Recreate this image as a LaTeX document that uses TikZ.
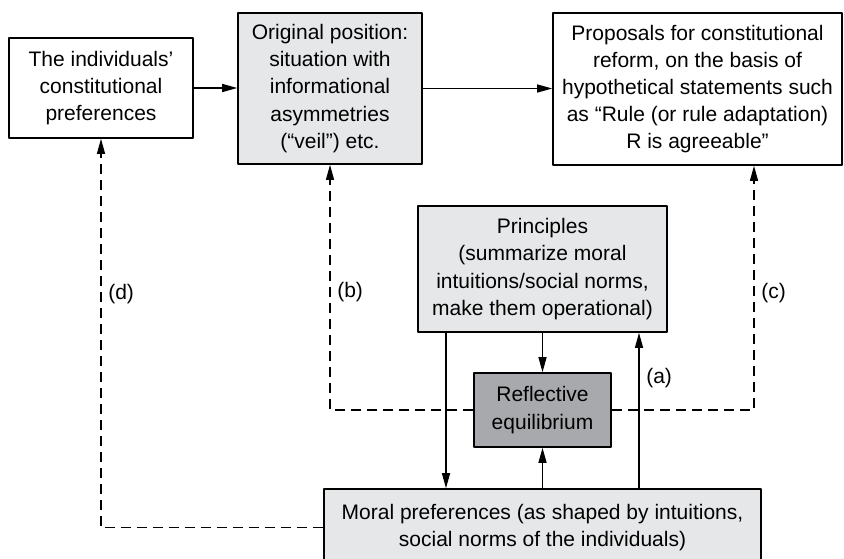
\documentclass[tikz,border=0pt]{standalone}
\usepackage{fontspec}
\setmainfont{Liberation Sans}
\usetikzlibrary{arrows.meta}
\definecolor{panelgray}{HTML}{E6E7E8}
\definecolor{equigray}{HTML}{A7A9AC}

\begin{document}
\begin{tikzpicture}[x=0.5pt, y=-0.5pt, font=\fontsize{10.5}{13.6}\selectfont, line join=round, >={Triangle[length=7.5pt,width=4pt]},
	box/.style={draw, line width=0.8pt, align=center, inner sep=0pt},
	greybox/.style={box, fill=panelgray},
	darkbox/.style={box, fill=equigray},
	conn/.style={line width=0.6pt, ->},
	dashconn/.style={conn, dash pattern=on 5pt off 3pt}]
	\useasboundingbox (0,0) rectangle (844,558);
	% boxes
	\node[box, minimum width=92pt, minimum height=50pt] (indiv) at (101,88) {The individuals’\\constitutional\\preferences};
	\node[greybox, minimum width=92pt, minimum height=75.5pt] (orig) at (330,88.5) {Original position:\\situation with\\informational\\asymmetries\\(“veil”) etc.};
	\node[box, minimum width=144.5pt, minimum height=76pt] (prop) at (697.5,89) {Proposals for constitutional\\reform, on the basis of\\hypothetical statements such\\as “Rule (or rule adaptation)\\R is agreeable”};
	\node[greybox, minimum width=124.5pt, minimum height=63pt] (princ) at (542.5,269) {Principles\\(summarize moral\\intuitions/social norms,\\make them operational)};
	\node[darkbox, minimum width=68.5pt, minimum height=37pt] (refl) at (542.5,410) {Reflective\\equilibrium};
	\node[greybox, minimum width=218.5pt, minimum height=38.5pt] (moral) at (542.5,527.5) {Moral preferences (as shaped by intuitions,\\social norms of the individuals)};
	% solid arrows
	\draw[conn] (indiv.east) -- (indiv.east -| orig.west);
	\draw[conn] (orig.east) -- (orig.east -| prop.west);
	\draw[conn] (princ) -- (refl);
	\draw[conn] (moral) -- (refl);
	\draw[conn] ([xshift=-48.25pt]princ.south) -- ([xshift=-48.25pt]princ.south |- moral.north);
	\draw[conn] ([xshift=48.25pt]princ.south |- moral.north) -- ([xshift=48.25pt]princ.south) node[right, pos=0.71] (lbla) {(a)};
	% dashed arrows
	\draw[dashconn] (refl.west) -| (orig.south) node[right, pos=0.74] (lblb) {(b)};
	\draw[dashconn] (refl.east) -| ([xshift=28.25pt]prop.south) node[right, pos=0.74] (lblc) {(c)};
	\draw[dashconn] (moral.west) -| (indiv.south) node[right, pos=0.8] (lbld) {(d)};
\end{tikzpicture}
\end{document}
